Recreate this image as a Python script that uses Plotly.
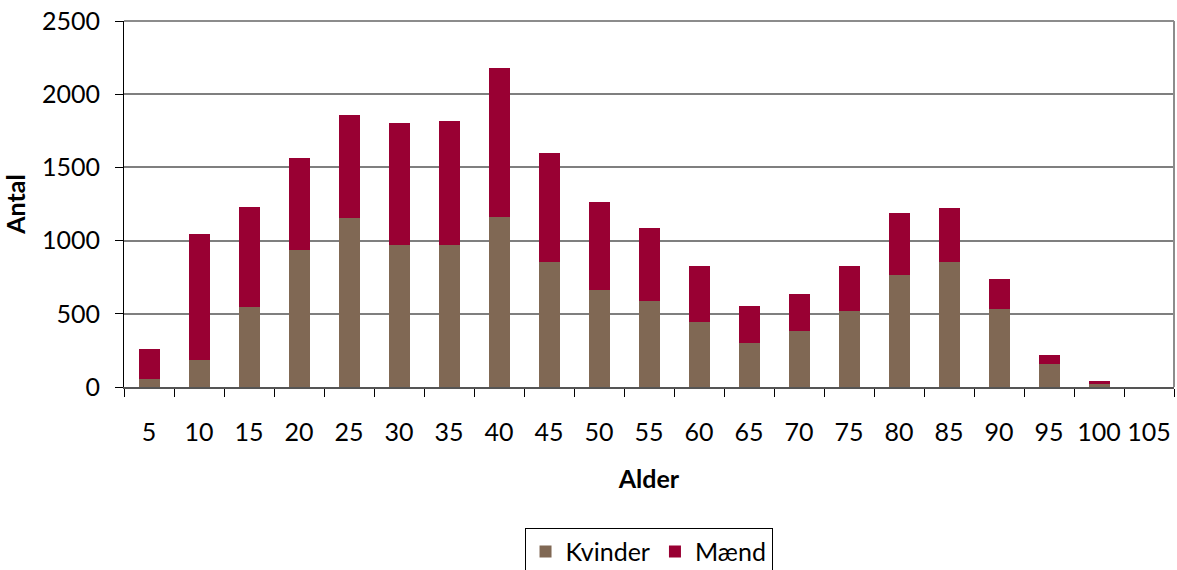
import plotly.graph_objects as go

ages = ["5", "10", "15", "20", "25", "30", "35", "40", "45", "50", "55",
        "60", "65", "70", "75", "80", "85", "90", "95", "100", "105"]
kvinder = [55, 185, 547, 937, 1156, 971, 971, 1163, 855, 664, 588,
           445, 301, 383, 520, 766, 855, 534, 157, 21, 0]
total = [260, 1047, 1231, 1566, 1860, 1806, 1819, 2182, 1600, 1265, 1088,
         828, 554, 636, 828, 1190, 1224, 739, 219, 41, 0]
maend = [t - k for t, k in zip(total, kvinder)]

FONT = "Lato"

fig = go.Figure()
fig.add_trace(go.Bar(x=ages, y=kvinder, name="Kvinder", marker_color="#806854",
                     marker_line_width=0))
fig.add_trace(go.Bar(x=ages, y=maend, name="Mænd", marker_color="#990033",
                     marker_line_width=0))

fig.update_layout(
    barmode="stack",
    bargap=0.58,
    width=1177, height=570,
    margin=dict(l=124, r=3, t=21, b=183, autoexpand=False),
    plot_bgcolor="white", paper_bgcolor="white",
    font=dict(family=FONT, size=25, color="black"),
    legend=dict(orientation="h", xref="container", yref="container",
                x=0.551, xanchor="center", y=0.074, yanchor="top",
                bordercolor="black", borderwidth=1, font=dict(size=25),
                traceorder="normal", itemwidth=30, tracegroupgap=0),
    xaxis=dict(
        type="category", showline=True, linecolor="#555555", linewidth=2,
        ticks="outside", tickson="boundaries", ticklen=8, tickcolor="black",
        tickfont=dict(size=25), tickangle=0, automargin=False, ticklabelstandoff=22,
        ticklabeloverflow="allow",
        title=dict(text="<b>Alder</b>", font=dict(size=25), standoff=25),
    ),
    yaxis=dict(
        range=[0, 2500], tickvals=[0, 500, 1000, 1500, 2000, 2500],
        showline=True, linecolor="black", linewidth=1,
        ticks="outside", ticklen=8, tickcolor="black",
        gridcolor="#7f7f7f", gridwidth=1.5, automargin=False,
        tickfont=dict(size=25), ticklabelstandoff=10, ticklabeloverflow="allow",
        title=dict(text="<b>Antal</b>", font=dict(size=25), standoff=11),
    ),
)
# top and right border of plot area
fig.add_shape(type="line", xref="paper", yref="paper", x0=1, x1=1, y0=0, y1=1,
              line=dict(color="#8c8c8c", width=2))
fig.add_shape(type="line", xref="paper", yref="paper", x0=0, x1=1, y0=1, y1=1,
              line=dict(color="#8c8c8c", width=2))

fig.write_html("out.html", config={"displayModeBar": False},
               post_script="document.body.style.margin='0';document.body.style.overflow='hidden';")
